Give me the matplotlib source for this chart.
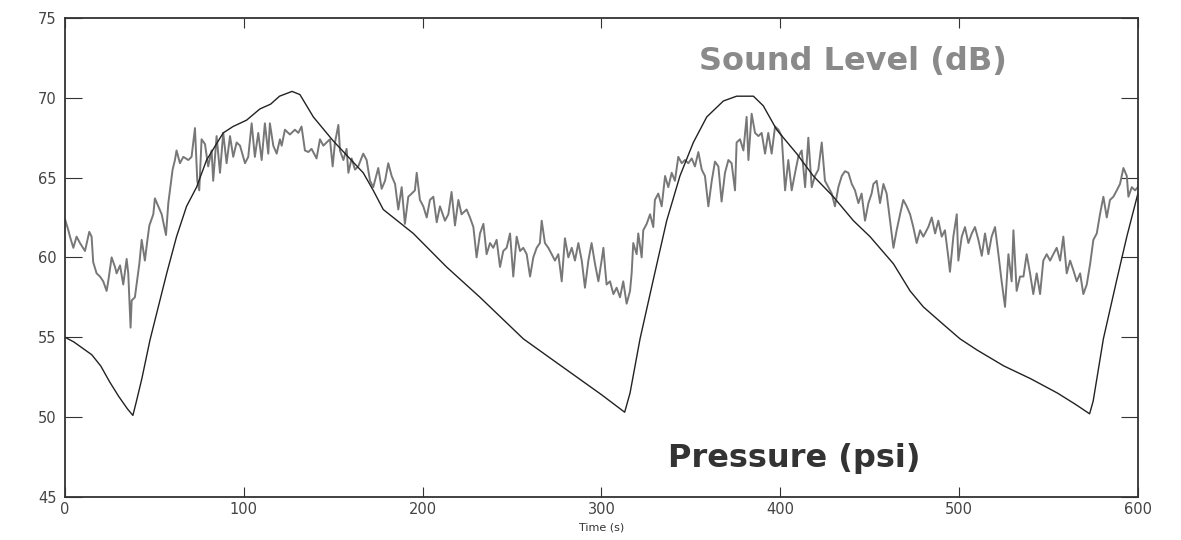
import matplotlib
matplotlib.use("Agg")
import matplotlib.pyplot as plt

# sound level trace
sound_t = [0, 1.9, 2.8, 4.7, 6.5, 8.4, 11.2, 13.6, 14.9, 15.8, 17.7, 19.6, 21.4, 23.3, 24.2,
           26.1, 28.0, 28.9, 30.8, 32.6, 34.5, 35.4, 36.7, 37.3, 39.1, 41.6, 42.9, 44.7, 46.0,
           47.2, 49.4, 50.3, 52.2, 54.1, 56.5, 57.8, 58.7, 60.2, 61.5, 62.4, 64.3, 66.2, 69.0,
           70.8, 72.7, 74.0, 75.1, 76.4, 78.3, 80.1, 82.0, 82.9, 84.8, 86.7, 88.5, 90.4, 92.3,
           94.1, 96.0, 97.9, 100.7, 102.5, 104.4, 106.2, 108.1, 110.0, 111.8, 113.7, 114.6,
           116.5, 118.4, 120.2, 121.2, 123.0, 125.8, 128.6, 130.5, 132.3, 134.2, 136.1, 137.9,
           140.7, 142.6, 144.5, 146.3, 148.2, 149.7, 151.0, 152.9, 153.8, 155.7, 157.5, 158.5,
           160.3, 162.2, 164.0, 166.8, 168.7, 170.6, 172.4, 175.2, 177.1, 179.0, 180.8, 182.7,
           184.6, 186.4, 188.3, 190.1, 192.0, 193.9, 195.7, 196.7, 198.5, 200.4, 202.3, 204.1,
           206.0, 207.9, 209.7, 212.5, 214.4, 216.2, 218.1, 220.0, 221.8, 224.6, 226.5, 228.4,
           230.2, 232.1, 234.0, 235.8, 237.7, 239.5, 241.4, 243.3, 245.1, 247.0, 248.9, 250.7,
           252.6, 254.5, 256.3, 258.2, 260.1, 261.9, 263.8, 265.6, 266.6, 268.4, 270.3, 272.2,
           274.0, 275.9, 277.8, 279.6, 281.5, 283.4, 285.2, 287.1, 289.0, 290.8, 292.7, 294.5,
           296.4, 298.3, 300.1, 301.1, 302.0, 302.9, 304.8, 306.7, 308.5, 310.4, 312.2, 314.1,
           316.0, 316.9, 317.8, 319.7, 320.6, 322.5, 323.4, 325.3, 327.2, 329.0, 329.9, 331.8,
           333.7, 335.6, 337.4, 339.3, 341.1, 343.0, 344.9, 346.7, 348.6, 350.5, 352.3, 354.2,
           356.1, 357.9, 359.8, 361.7, 363.5, 365.4, 367.2, 369.1, 371.0, 372.8, 374.7, 375.6,
           377.5, 379.4, 381.2, 382.2, 384.0, 385.9, 387.8, 389.6, 391.5, 393.3, 395.2, 397.1,
           399.0, 400.8, 402.7, 404.5, 406.4, 408.3, 410.1, 412.0, 413.9, 415.7, 417.6, 419.4,
           421.3, 423.2, 425.0, 426.9, 428.8, 430.6, 432.5, 434.4, 436.2, 438.1, 440.0, 441.8,
           443.7, 445.5, 447.4, 449.3, 451.1, 452.1, 453.9, 455.8, 457.7, 459.5, 461.4, 463.3,
           465.1, 467.0, 468.8, 470.7, 472.6, 474.4, 476.3, 478.2, 480.0, 482.8, 484.7, 486.6,
           488.4, 490.3, 492.1, 494.0, 494.9, 496.8, 498.7, 499.6, 501.5, 503.3, 505.2, 507.1,
           508.9, 510.8, 512.7, 514.5, 516.4, 518.2, 520.1, 522.0, 523.8, 525.7, 527.6, 529.4,
           530.4, 532.2, 534.1, 536.0, 537.8, 539.7, 541.5, 543.4, 545.3, 547.1, 549.0, 550.9,
           552.7, 554.6, 556.5, 558.3, 560.2, 562.1, 563.9, 565.8, 567.7, 569.5, 571.4, 573.3,
           575.1, 577.0, 578.8, 580.7, 582.6, 584.4, 586.3, 588.2, 590.0, 591.9, 593.8, 594.7,
           596.6, 598.4, 600.0]
sound_db = [62.4, 61.7, 61.3, 60.6, 61.3, 60.9, 60.4, 61.6, 61.3, 59.7, 59.0, 58.8, 58.5, 57.9, 58.5,
            60.0, 59.4, 59.0, 59.5, 58.3, 59.9, 59.0, 55.6, 57.3, 57.5, 59.6, 61.1, 59.8, 61.0,
            62.0, 62.7, 63.7, 63.2, 62.7, 61.4, 63.4, 64.2, 65.5, 66.1, 66.7, 65.9, 66.3, 66.1,
            66.3, 68.1, 64.8, 64.2, 67.4, 67.1, 65.7, 66.7, 64.8, 67.6, 65.3, 67.8, 65.9, 67.6,
            66.3, 67.2, 67.0, 65.9, 66.3, 68.4, 66.3, 67.8, 66.1, 68.4, 66.5, 68.4,
            67.0, 66.5, 67.4, 67.0, 68.0, 67.7, 68.0, 67.8, 68.2, 66.7, 66.6, 66.8,
            66.2, 67.4, 67.0, 67.2, 67.4, 65.7, 67.2, 68.3, 66.7, 66.1, 66.8, 65.3,
            66.2, 65.5, 65.7, 66.5, 66.1, 64.8, 64.4, 65.6, 64.3, 64.8, 65.9, 65.1,
            64.6, 63.0, 64.4, 62.1, 63.8, 64.0, 64.2, 65.3, 63.6, 63.2, 62.5, 63.6,
            63.8, 62.2, 63.2, 62.3, 62.7, 64.1, 62.0, 63.6, 62.7, 63.0, 62.5, 61.9,
            60.0, 61.5, 62.1, 60.2, 60.9, 60.6, 61.1, 59.4, 60.4, 60.6, 61.5, 58.8,
            61.3, 60.4, 60.6, 60.2, 58.8, 60.0, 60.6, 60.9, 62.3, 60.9, 60.6, 60.2,
            59.8, 60.2, 58.5, 61.2, 60.0, 60.6, 59.8, 60.9, 59.8, 58.1, 59.8, 60.9,
            59.6, 58.5, 59.8, 60.6, 59.4, 58.3, 58.5, 57.7, 58.1, 57.5, 58.5, 57.1,
            57.9, 59.0, 60.9, 60.2, 61.5, 60.0, 61.7, 62.1, 62.7, 61.9, 63.6, 64.0,
            63.2, 65.1, 64.4, 65.3, 64.8, 66.3, 65.9, 66.1, 65.9, 66.2, 65.7, 66.6,
            65.5, 65.1, 63.2, 64.8, 66.0, 65.7, 63.5, 65.3, 66.1, 65.9, 64.2, 67.2,
            67.4, 66.7, 68.8, 66.1, 69.0, 67.8, 67.6, 67.8, 66.5, 67.8, 66.5, 68.2,
            68.0, 67.6, 64.2, 66.1, 64.2, 65.3, 66.3, 66.7, 64.4, 67.5, 64.4, 65.1,
            65.5, 67.2, 64.8, 64.4, 64.0, 63.2, 64.4, 65.1, 65.4, 65.3, 64.6, 64.2,
            63.4, 64.0, 62.3, 63.4, 64.0, 64.6, 64.8, 63.4, 64.6, 64.0, 62.3, 60.6,
            61.7, 62.7, 63.6, 63.2, 62.7, 61.9, 60.9, 61.7, 61.3, 61.9, 62.5, 61.5,
            62.3, 61.3, 61.7, 60.0, 59.1, 61.3, 62.7, 59.8, 61.3, 61.9, 60.9, 61.5,
            61.9, 61.1, 60.1, 61.5, 60.2, 61.3, 61.9, 60.2, 58.5, 56.9, 60.2, 58.5,
            61.7, 57.9, 58.8, 58.8, 60.2, 59.0, 57.7, 59.0, 57.7, 59.8, 60.2, 59.8,
            60.2, 60.6, 59.8, 61.3, 59.0, 59.8, 59.2, 58.5, 59.0, 57.7, 58.3, 59.6,
            61.1, 61.5, 62.7, 63.8, 62.5, 63.6, 63.8, 64.2, 64.6, 65.6, 65.1, 63.8,
            64.4, 64.2, 64.4]

# pressure trace
press_t = [0, 5, 10, 15, 20, 25, 30, 35, 38, 40, 43, 47.5, 51.3, 56.9, 62.4, 68, 73.6, 79.2,
           88.5, 94, 101.6, 109, 115, 120, 127, 131.4, 138.9, 146.3, 150, 166.8, 172.4, 178,
           194.8, 213.4, 232.1, 256.3, 270, 285, 300, 313, 316, 321.6, 329, 336.5, 343.9,
           351.4, 358.9, 368.2, 375.6, 385, 390.5, 398, 409.2, 418.5, 429.7, 440.9, 450.2,
           463.3, 472.6, 480, 491.2, 500.5, 510, 525, 540, 555, 565, 573, 575, 580.7, 588.2,
           593.8, 600]
press_psi = [55.0, 54.7, 54.3, 53.9, 53.2, 52.2, 51.3, 50.5, 50.1, 51.0, 52.4, 54.8, 56.5, 59.0,
             61.3, 63.2, 64.4, 66.1, 67.8, 68.2, 68.6, 69.3, 69.6, 70.1, 70.4, 70.2, 68.8, 67.8,
             67.3, 65.3, 64.2, 63.0, 61.5, 59.4, 57.5, 54.9, 53.8, 52.6, 51.4, 50.3, 51.5, 54.9,
             58.6, 62.3, 65.1, 67.2, 68.8, 69.8, 70.1, 70.1, 69.5, 68.0, 66.5, 65.1, 63.8, 62.3,
             61.3, 59.6, 57.9, 56.9, 55.8, 54.9, 54.2, 53.2, 52.4, 51.5, 50.8, 50.2, 51.0, 54.9,
             58.6, 61.3, 64.0]

x_ticks = [0, 100, 200, 300, 400, 500, 600]
y_ticks = [45, 50, 55, 60, 65, 70, 75]

fig = plt.figure(figsize=(11.81, 5.40), dpi=100)
ax = fig.add_axes([0.055, 0.08, 0.9085, 0.8867])

ax.plot(sound_t, sound_db, color="#777777", lw=1.4)
ax.plot(press_t, press_psi, color="#222222", lw=1.0)

ax.set_xlim(0, 600)
ax.set_ylim(45, 75)
ax.set_xticks(x_ticks)
ax.set_yticks(y_ticks)
ax.tick_params(axis="both", direction="in", top=True, right=True,
               labelsize=10.5, labelcolor="#444444", color="#333333")
ax.tick_params(axis="x", length=7, pad=4)
ax.tick_params(axis="y", length=12, pad=6)
for s in ax.spines.values():
    s.set_color("#333333")
    s.set_linewidth(1.3)

ax.set_xlabel("Time (s)", fontsize=8, color="#333333", labelpad=4)

ax.text(0.734, 0.91, "Sound Level (dB)", transform=ax.transAxes, ha="center", va="center",
        fontsize=23, fontweight="bold", color="#8a8a8a")
ax.text(0.68, 0.08, "Pressure (psi)", transform=ax.transAxes, ha="center", va="center",
        fontsize=23, fontweight="bold", color="#333333")

fig.savefig("out.png", dpi=100)
